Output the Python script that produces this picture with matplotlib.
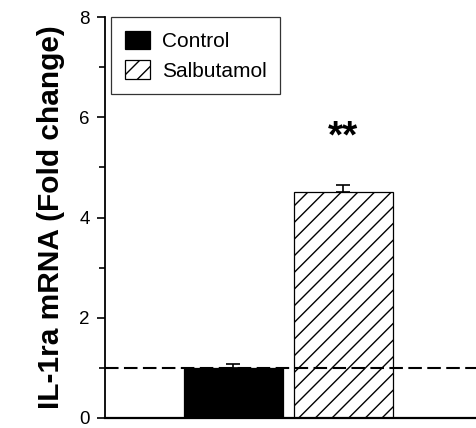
import matplotlib.pyplot as plt
import numpy as np
from matplotlib.ticker import MultipleLocator

plt.rcParams['font.family'] = ['Liberation Sans', 'DejaVu Sans']

# data
groups = ['Control', 'Salbutamol']
fold_change = [1.0, 4.5]
sem = [0.08, 0.15]
yticks = [0, 2, 4, 6, 8]

fig = plt.figure(figsize=(4.77, 4.28), dpi=100)
ax = fig.add_axes([105 / 477, 10 / 428, 372 / 477, 401 / 428])

x = np.arange(len(groups))
bars = ax.bar(x, fold_change, width=0.9, color=['black', 'white'],
              edgecolor='black', linewidth=0.9, zorder=2)
bars[1].set_hatch('//')
ax.errorbar(x, fold_change, yerr=[[0, 0], sem], fmt='none', ecolor='black',
            elinewidth=1.2, capsize=5, capthick=1.2, zorder=3)

# reference line at 1-fold
ax.axhline(1.0, color='black', linewidth=1.5, dashes=(6.5, 2.6), zorder=4)

# significance
ax.text(x[1], 5.6, '**', ha='center', va='center', fontsize=28,
        fontweight='bold')

ax.set_xlim(-1.168, 2.214)
ax.set_ylim(0, 8)
ax.set_yticks(yticks)
ax.yaxis.set_minor_locator(MultipleLocator(1))
ax.set_xticks([])
ax.tick_params(axis='y', which='major', direction='out', length=6, width=1.2,
               labelsize=13.5, pad=5)
ax.tick_params(axis='y', which='minor', direction='out', length=4, width=1.2)

for s in ['top', 'right']:
    ax.spines[s].set_visible(False)
ax.spines['left'].set_linewidth(1.3)
ax.spines['bottom'].set_linewidth(1.6)

ax.set_ylabel('IL-1ra mRNA (Fold change)', fontsize=21.5, fontweight='bold',
              labelpad=10)

leg = ax.legend(bars, groups, loc='upper left',
                bbox_to_anchor=(111 / 477, 1 - 17 / 428),
                bbox_transform=fig.transFigure, fontsize=15, frameon=True,
                fancybox=False, edgecolor='black', handlelength=1.2,
                handleheight=1.0, handletextpad=0.6, borderpad=0.65,
                labelspacing=0.45, borderaxespad=0)
leg.get_frame().set_linewidth(0.9)

fig.savefig('out.png', dpi=100)
